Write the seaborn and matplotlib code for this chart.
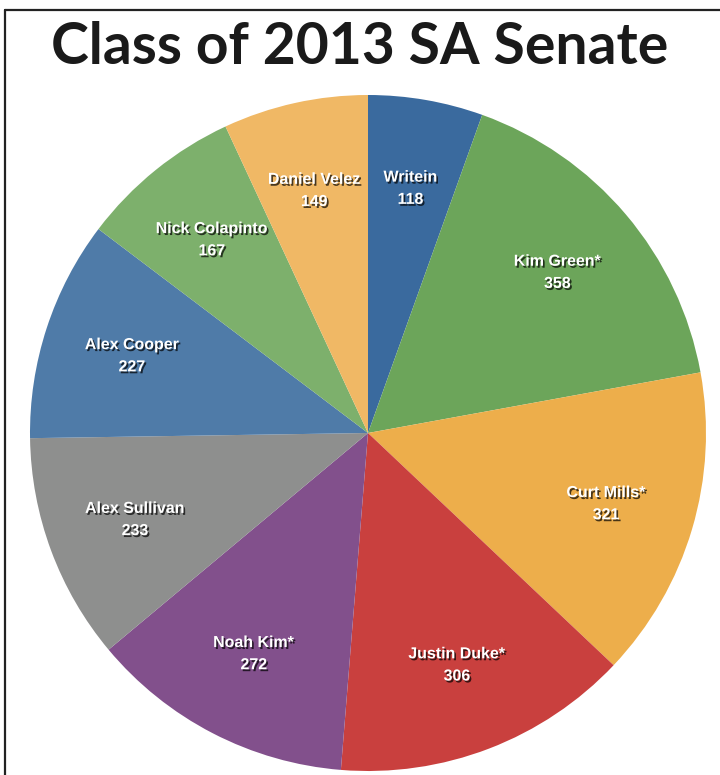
import numpy as np
import matplotlib
matplotlib.use("Agg")
import matplotlib.pyplot as plt
import matplotlib.patheffects as pe
import seaborn as sns

# Vote counts, clockwise from 12 o'clock
candidates = ["Writein", "Kim Green*", "Curt Mills*", "Justin Duke*", "Noah Kim*",
              "Alex Sullivan", "Alex Cooper", "Nick Colapinto", "Daniel Velez"]
votes = [118, 358, 321, 306, 272, 233, 227, 167, 149]
slice_colors = ["#3A6A9E", "#6CA55A", "#EDAE4B", "#C9403E", "#82508C",
                "#8E8F8E", "#4F7BA8", "#7DB06C", "#F0B865"]

sns.set_theme(style="white")
plt.rcParams['font.family'] = ['Liberation Sans', 'DejaVu Sans']

W, H = 720, 775
fig = plt.figure(figsize=(W / 100, H / 100), dpi=100)

# pie geometry in pixels
cx, cy, r = 368, 433, 338
ax = fig.add_axes([(cx - r) / W, (H - cy - r) / H, 2 * r / W, 2 * r / H])
palette = sns.color_palette(slice_colors)

wedges, _ = ax.pie(votes, colors=palette, startangle=90, counterclock=False,
                   radius=1, wedgeprops=dict(linewidth=0))
ax.set_xlim(-1, 1)
ax.set_ylim(-1, 1)
ax.set_aspect("equal")
ax.axis("off")

shadow = [pe.withSimplePatchShadow(offset=(1.2, -1.4), shadow_rgbFace="black", alpha=0.7)]
for w, name, v in zip(wedges, candidates, votes):
    ang = np.deg2rad((w.theta1 + w.theta2) / 2)
    x, y = 0.735 * np.cos(ang), 0.735 * np.sin(ang)
    ax.text(x, y, f"{name}\n{v}", ha="center", va="center", color="white",
            fontsize=11.5, fontweight="bold", linespacing=1.6, path_effects=shadow)

# title
fig.text(0.5, 1 - 47 / H, "Class of 2013 SA Senate", ha="center", va="center",
         fontsize=41, fontweight="bold", color="#1a1a1a", family=["Lato", "DejaVu Sans"])

# frame lines (top and left)
fig.add_artist(plt.Line2D([5 / W, 1], [1 - 10 / H, 1 - 10 / H], color="#222222", lw=1.6))
fig.add_artist(plt.Line2D([5 / W, 5 / W], [0, 1 - 10 / H], color="#222222", lw=1.6))

fig.savefig("out.png", dpi=100)
